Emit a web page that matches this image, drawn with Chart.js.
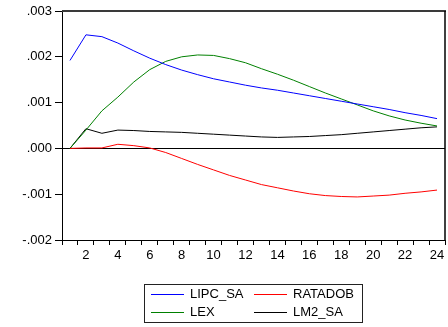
<!DOCTYPE html>
<html>
<head>
<meta charset="utf-8">
<script src="https://cdn.jsdelivr.net/npm/chart.js@4.4.1/dist/chart.umd.min.js"></script>
<style>
  html, body { margin: 0; padding: 0; background: #fff; }
  #wrap { position: relative; width: 448px; height: 327px; }
</style>
</head>
<body>
<div id="wrap"><canvas id="c" width="448" height="327"></canvas></div>
<script>
// Periods 1..24
const periods = [1,2,3,4,5,6,7,8,9,10,11,12,13,14,15,16,17,18,19,20,21,22,23,24];
const seriesNames = ['LIPC_SA', 'RATADOB', 'LEX', 'LM2_SA'];
const lipcSa = [0.00192,0.00248,0.00244,0.00230,0.00213,0.00197,0.00183,0.00171,0.00161,0.00152,0.00145,0.00138,0.00132,0.00127,0.00121,0.00115,0.00109,0.00103,0.00097,0.00091,0.00085,0.00078,0.00072,0.00065];
const ratadob = [0,0.00001,0.00001,0.00009,0.00006,0.00001,-0.00009,-0.00022,-0.00035,-0.00047,-0.00059,-0.00069,-0.00079,-0.00086,-0.00093,-0.00099,-0.00103,-0.00105,-0.00106,-0.00104,-0.00102,-0.00098,-0.00095,-0.00091];
const lex = [0,0.00040,0.00082,0.00112,0.00145,0.00172,0.00190,0.00200,0.00204,0.00203,0.00196,0.00187,0.00174,0.00162,0.00149,0.00135,0.00121,0.00108,0.00095,0.00082,0.00071,0.00062,0.00055,0.00049];
const lm2Sa = [0,0.00043,0.00033,0.00040,0.00039,0.00037,0.00036,0.00035,0.00033,0.00031,0.00029,0.00027,0.00025,0.00024,0.00025,0.00026,0.00028,0.00030,0.00033,0.00036,0.00039,0.00042,0.00045,0.00047];
const yTicks = [-0.002,-0.001,0,0.001,0.002,0.003];
const xLabelTicks = [2,4,6,8,10,12,14,16,18,20,22,24];

const colors = ['#0000ff', '#ff0000', '#008000', '#000000'];
const allSeries = [lipcSa, ratadob, lex, lm2Sa];

const FONT = 'Liberation Sans, Arial, sans-serif';

function pts(arr) { return arr.map((v, i) => ({ x: periods[i], y: v })); }

const frame = {
  id: 'frame',
  afterDraw(chart) {
    const ctx = chart.ctx, a = chart.chartArea;
    ctx.save();
    // top border
    ctx.strokeStyle = '#3a3a3a';
    ctx.lineWidth = 2;
    ctx.beginPath(); ctx.moveTo(a.left, a.top); ctx.lineTo(a.right + 1, a.top); ctx.stroke();
    // right border
    ctx.strokeStyle = '#000';
    ctx.lineWidth = 1.5;
    ctx.beginPath(); ctx.moveTo(a.right, a.top); ctx.lineTo(a.right, a.bottom); ctx.stroke();
    // legend box
    ctx.lineWidth = 1;
    ctx.strokeStyle = '#222';
    ctx.strokeRect(144.5, 284.5, 218, 38);
    const cols = [[151, 184, 190], [254, 287, 293]];
    const rows = [294, 312];
    ctx.font = '13px ' + FONT;
    ctx.textBaseline = 'middle';
    ctx.textAlign = 'left';
    seriesNames.forEach((name, i) => {
      const c = cols[i % 2], r = rows[Math.floor(i / 2)];
      ctx.lineWidth = 1;
      ctx.strokeStyle = colors[i];
      ctx.beginPath(); ctx.moveTo(c[0], r + 0.5); ctx.lineTo(c[1], r + 0.5); ctx.stroke();
      ctx.fillStyle = '#000';
      ctx.fillText(name, c[2], r + 0.5);
    });
    ctx.restore();
  }
};

new Chart(document.getElementById('c'), {
  type: 'line',
  data: {
    datasets: seriesNames.map((n, i) => ({
      label: n,
      data: pts(allSeries[i]),
      borderColor: colors[i],
      backgroundColor: colors[i],
      borderWidth: 1,
      pointRadius: 0,
      tension: 0,
      fill: false
    }))
  },
  options: {
    responsive: false,
    animation: false,
    layout: { padding: { top: 11, right: 3, bottom: 0, left: 0 } },
    plugins: { legend: { display: false }, tooltip: { enabled: false } },
    scales: {
      x: {
        type: 'linear',
        min: 0.5,
        max: 24.5,
        afterBuildTicks(scale) {
          const t = [];
          for (let v = 0.5; v <= 24.5001; v += 0.5) t.push({ value: v });
          scale.ticks = t;
        },
        afterFit(scale) { scale.height = 87; },
        ticks: {
          autoSkip: false,
          maxRotation: 0,
          padding: 3,
          color: '#000',
          font: { family: FONT, size: 13 },
          callback(v) { return xLabelTicks.includes(v) ? String(v) : ''; }
        },
        grid: {
          drawOnChartArea: false,
          drawTicks: true,
          tickLength: 5,
          tickColor(ctx) { return (ctx.tick && ctx.tick.value % 1 !== 0) ? '#000' : 'rgba(0,0,0,0)'; },
          color: 'rgba(0,0,0,0)'
        },
        border: { display: true, color: '#000', width: 1 }
      },
      y: {
        min: -0.002,
        max: 0.003,
        afterBuildTicks(scale) { scale.ticks = yTicks.map(v => ({ value: v })); },
        afterFit(scale) { scale.width = 62; },
        ticks: {
          padding: 3,
          color: '#000',
          font: { family: FONT, size: 13 },
          callback(v) {
            let s = (Math.abs(v) < 1e-9 ? 0 : v).toFixed(3);
            return s.replace('0.', '.');
          }
        },
        grid: {
          drawOnChartArea: true,
          tickLength: 7,
          tickColor: '#000',
          color(ctx) { return (ctx.tick && Math.abs(ctx.tick.value) < 1e-9) ? '#000' : 'rgba(0,0,0,0)'; }
        },
        border: { display: true, color: '#000', width: 1 }
      }
    }
  },
  plugins: [frame]
});
</script>
</body>
</html>
